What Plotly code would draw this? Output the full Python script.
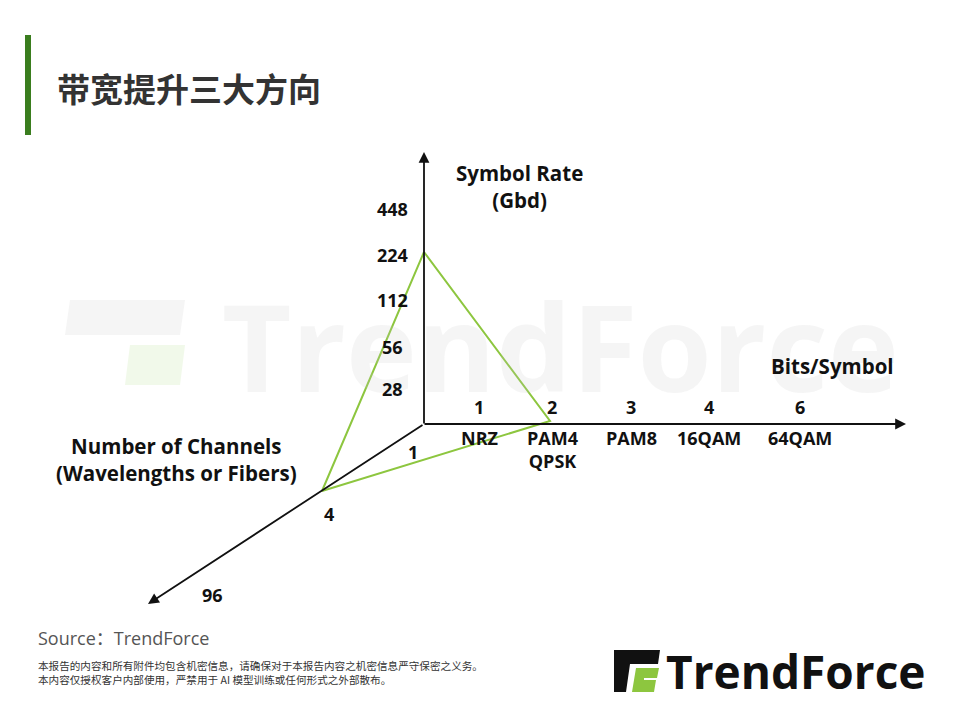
import plotly.graph_objects as go

# axis tick labels
rate_labels = ["28", "56", "112", "224", "448"]
bits_labels = ["1", "2", "3", "4", "6"]
mod_labels = ["NRZ", "PAM4<br>QPSK", "PAM8", "16QAM", "64QAM"]
chan_labels = ["1", "4", "96"]

# layout of the 3-axis diagram (pixel space)
ox, oy = 424, 424
rate_y = [389, 347, 300, 255, 209]
bits_x = [479, 552, 631, 709, 800]
mod_y = [438, 449, 438, 438, 438]
chan_pos = [(413, 452), (329, 514), (212, 595)]
# triangle: 224 Gbd, PAM4, 4 channels
tri = [(424, 252), (550, 421), (322, 491)]

BLACK = "#111111"
GREEN = "#8dc63f"
FONT = "Open Sans, Noto Sans CJK SC, sans-serif"

fig = go.Figure()
fig.add_trace(go.Scatter(x=[p[0] for p in tri] + [tri[0][0]],
                         y=[p[1] for p in tri] + [tri[0][1]],
                         mode="lines", line=dict(color=GREEN, width=2),
                         hoverinfo="skip", showlegend=False))

ann = []
shapes = []

# watermark
ann.append(dict(x=560, y=345, text="<b>TrendForce</b>", showarrow=False,
                font=dict(size=120, color="rgba(200,200,200,0.18)", family=FONT)))
shapes.append(dict(type="path", path="M 70 300 L 185 300 L 180 335 L 65 335 Z",
                   fillcolor="rgba(200,200,200,0.18)", line_width=0, layer="below"))
shapes.append(dict(type="path", path="M 130 345 L 185 345 L 180 385 L 125 385 Z",
                   fillcolor="rgba(200,230,170,0.25)", line_width=0, layer="below"))

# axes with arrows
for (ax_, ay_, x_, y_) in [(ox, oy + 1, ox, 152), (ox - 1, oy, 906, oy), (ox, oy, 148, 604)]:
    ann.append(dict(x=x_, y=y_, ax=ax_, ay=ay_, xref="x", yref="y", axref="x", ayref="y",
                    text="", showarrow=True, arrowhead=2, arrowsize=1.2, arrowwidth=1.8,
                    arrowcolor=BLACK))

def lab(x, y, t, size=18, bold=True, **kw):
    ann.append(dict(x=x, y=y, text=f"<b>{t}</b>" if bold else t, showarrow=False,
                    font=dict(size=size, color=BLACK, family=FONT), **kw))

for t, y in zip(rate_labels, rate_y):
    lab(392, y, t)
for t, x in zip(bits_labels, bits_x):
    lab(x, 407, t)
for t, x, y in zip(mod_labels, bits_x, mod_y):
    lab(x, y, t)
for t, (x, y) in zip(chan_labels, chan_pos):
    lab(x, y, t)

lab(519, 186, "Symbol Rate<br>(Gbd)", size=20.5)
lab(832, 366, "Bits/Symbol", size=20.5)
lab(176, 459, "Number of Channels<br>(Wavelengths or Fibers)", size=20.5)

# title
shapes.append(dict(type="rect", x0=25, x1=31, y0=35, y1=135, fillcolor="#3a7d1e", line_width=0))
ann.append(dict(x=55, y=88, text="<b>带宽提升三大方向</b>", showarrow=False, xanchor="left",
                font=dict(size=33, color="#333333", family="Noto Sans CJK SC")))

# footer
ann.append(dict(x=36, y=638, text="Source：TrendForce", showarrow=False, xanchor="left",
                font=dict(size=18, color="#555555", family=FONT)))
ann.append(dict(x=36, y=672, text="本报告的内容和所有附件均包含机密信息，请确保对于本报告内容之机密信息严守保密之义务。<br>本内容仅授权客户内部使用，严禁用于 AI 模型训练或任何形式之外部散布。",
                showarrow=False, xanchor="left", align="left",
                font=dict(size=10.6, color="#333333", family="Noto Sans CJK SC")))

# logo
shapes.append(dict(type="path", path="M 614 650 L 660 650 L 658 664 L 630 664 L 626 692 L 614 692 Z",
                   fillcolor=BLACK, line_width=0))
shapes.append(dict(type="path", path="M 636 668 L 659 668 L 657 678 L 644 678 L 644 680 L 656 680 L 654 692 L 632 692 Z",
                   fillcolor=GREEN, line_width=0))
ann.append(dict(x=664, y=671, text="<b>TrendForce</b>", showarrow=False, xanchor="left",
                font=dict(size=46, color=BLACK, family=FONT)))

# page body has an 8px margin, so shift the pixel ranges to compensate
fig.update_layout(
    width=960, height=720, margin=dict(l=0, r=0, t=0, b=0),
    paper_bgcolor="white", plot_bgcolor="white",
    xaxis=dict(range=[8, 968], visible=False, fixedrange=True),
    yaxis=dict(range=[728, 8], visible=False, fixedrange=True),
    annotations=ann, shapes=shapes,
)
fig.write_html("out.html")
